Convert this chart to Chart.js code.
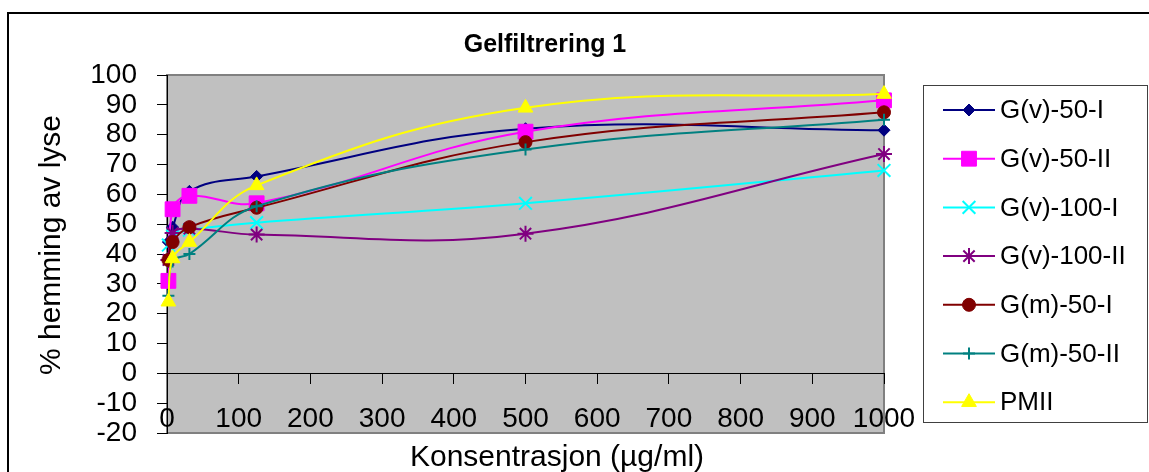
<!DOCTYPE html>
<html>
<head>
<meta charset="utf-8">
<script src="https://cdn.jsdelivr.net/npm/chart.js@4/dist/chart.umd.min.js"></script>
<style>
  html, body { margin: 0; padding: 0; background: #fff; overflow: hidden; }
</style>
</head>
<body>
<canvas id="myChart" width="1149" height="472"></canvas>
<script>
// konsentrasjoner (x) og % hemming for hver serie
var konsentrasjon = [1.95, 7.8, 31.25, 125, 500, 1000];
var gv50I   = [44, 49, 61, 66, 82, 81.5];
var gv50II  = [31, 55, 59.5, 57, 81, 91.5];
var gv100I  = [43, 46, 48, 50.5, 57, 68];
var gv100II = [38, 47, 48.5, 46.5, 46.8, 73.5];
var gm50I   = [38, 44, 49, 55.5, 77.5, 87.5];
var gm50II  = [26, 37.5, 40, 56, 75, 85];
var pmII    = [24, 38.5, 44, 63, 89, 93.6];

var xTicks = [0, 1000, 100];   // min, max, step
var yTicks = [-20, 100, 10];

var fontName = '"Liberation Sans", Arial, sans-serif';
var ctx = document.getElementById('myChart').getContext('2d');

function toPoints(values){
    var pts = [];
    for (var i = 0; i < values.length; i++) {
        pts.push({x: konsentrasjon[i], y: values[i]});
    }
    return pts;
}

function makeSet(label, values, color, style, radius, bw, order){
    return {
        label: label,
        data: toPoints(values),
        borderColor: color,
        backgroundColor: color,
        borderWidth: 2,
        tension: 0.4,
        pointStyle: style,
        pointRadius: radius,
        pointBackgroundColor: color,
        pointBorderColor: color,
        pointBorderWidth: bw,
        clip: false,
        order: order
    };
}

var datasets = [
    makeSet('G(v)-50-I',  gv50I,   '#000080', 'rectRot',  6,   1, 7),
    makeSet('G(v)-50-II', gv50II,  '#FF00FF', 'rect',     10.5, 1, 6),
    makeSet('G(v)-100-I', gv100I,  '#00FFFF', 'crossRot', 9,   2, 5),
    makeSet('G(v)-100-II',gv100II, '#800080', 'star',     8,   2, 4),
    makeSet('G(m)-50-I',  gm50I,   '#800000', 'circle',   6.5, 1, 3),
    makeSet('G(m)-50-II', gm50II,  '#008080', 'cross',    6,   2, 2),
    makeSet('PMII',       pmII,    '#FFFF00', 'triangle', 8.5, 1, 1)
];

//bakgrunn, ramme, titler og forklaring
var decor = {
    id: 'decor',
    beforeDraw: function(chart){
        var c = chart.ctx, a = chart.chartArea;
        c.save();
        c.fillStyle = '#fff';
        c.fillRect(0, 0, chart.width, chart.height);
        c.strokeStyle = '#000';
        c.lineWidth = 2;
        c.beginPath();
        c.moveTo(8, chart.height + 5);
        c.lineTo(8, 13);
        c.lineTo(chart.width + 5, 13);
        c.stroke();
        c.fillStyle = '#C0C0C0';
        c.fillRect(a.left, a.top, a.right - a.left, a.bottom - a.top);
        c.strokeStyle = '#808080';
        c.lineWidth = 2;
        c.strokeRect(a.left, a.top, a.right - a.left, a.bottom - a.top);
        c.restore();
    },
    afterDraw: function(chart){
        var c = chart.ctx;
        c.save();
        c.fillStyle = '#000';
        c.textAlign = 'center';
        c.textBaseline = 'middle';
        c.font = 'bold 25px ' + fontName;
        c.fillText('Gelfiltrering 1', 545, 45);
        c.font = '30px ' + fontName;
        c.fillText('Konsentrasjon (µg/ml)', 557, 458);
        c.translate(52, 245);
        c.rotate(-Math.PI / 2);
        c.fillText('% hemming av lyse', 0, 0);
        c.restore();

        // forklaring
        c.save();
        c.strokeStyle = '#404040';
        c.lineWidth = 1;
        c.strokeRect(923.5, 85.5, 224, 337);
        var ds = chart.data.datasets;
        for (var i = 0; i < ds.length; i++) {
            var y = 110 + i * 48.7;
            c.strokeStyle = ds[i].borderColor;
            c.lineWidth = 2;
            c.beginPath();
            c.moveTo(943, y);
            c.lineTo(995, y);
            c.stroke();
            c.fillStyle = ds[i].pointBackgroundColor;
            c.lineWidth = ds[i].pointBorderWidth;
            Chart.helpers.drawPoint(c, {
                pointStyle: ds[i].pointStyle,
                rotation: 0,
                radius: ds[i].pointRadius,
                borderWidth: ds[i].pointBorderWidth
            }, 969, y);
            c.fillStyle = '#000';
            c.textAlign = 'left';
            c.textBaseline = 'middle';
            c.font = '26px ' + fontName;
            c.fillText(ds[i].label, 1000, y + 1);
        }
        c.restore();
    }
};

var myChart = new Chart(ctx, {
    type: 'line',
    data: { datasets: datasets },
    plugins: [decor],
    options: {
        responsive: false,
        animation: false,
        events: [],
        layout: {
            padding: { left: 0, top: 75, right: 265, bottom: 0 }
        },
        scales: {
            x: {
                type: 'linear',
                min: xTicks[0],
                max: xTicks[1],
                position: { y: 0 },
                grid: {
                    drawOnChartArea: false,
                    drawTicks: true,
                    tickLength: 10,
                    color: '#000'
                },
                border: { display: true, color: '#000', width: 1 },
                ticks: { display: false, stepSize: xTicks[2] }
            },
            x2: {
                type: 'linear',
                axis: 'x',
                display: true,
                position: 'bottom',
                min: xTicks[0],
                max: xTicks[1],
                grid: { display: false, drawTicks: false },
                border: { display: false },
                ticks: {
                    stepSize: xTicks[2],
                    autoSkip: false,
                    maxRotation: 0,
                    mirror: true,
                    padding: -3,
                    color: '#000',
                    font: { family: fontName, size: 28 },
                    callback: function(v){ return String(v); }
                },
                afterFit: function(scale){ scale.height = 39; }
            },
            y: {
                type: 'linear',
                min: yTicks[0],
                max: yTicks[1],
                position: 'left',
                grid: {
                    drawOnChartArea: false,
                    drawTicks: true,
                    tickLength: 10,
                    color: '#000'
                },
                border: { display: true, color: '#000', width: 1 },
                ticks: {
                    stepSize: yTicks[2],
                    autoSkip: false,
                    padding: 20,
                    color: '#000',
                    font: { family: fontName, size: 28 }
                },
                afterFit: function(scale){ scale.width = 167; }
            }
        },
        plugins: {
            legend: { display: false },
            title: { display: false },
            tooltip: { enabled: false }
        }
    }
});
</script>
</body>
</html>
